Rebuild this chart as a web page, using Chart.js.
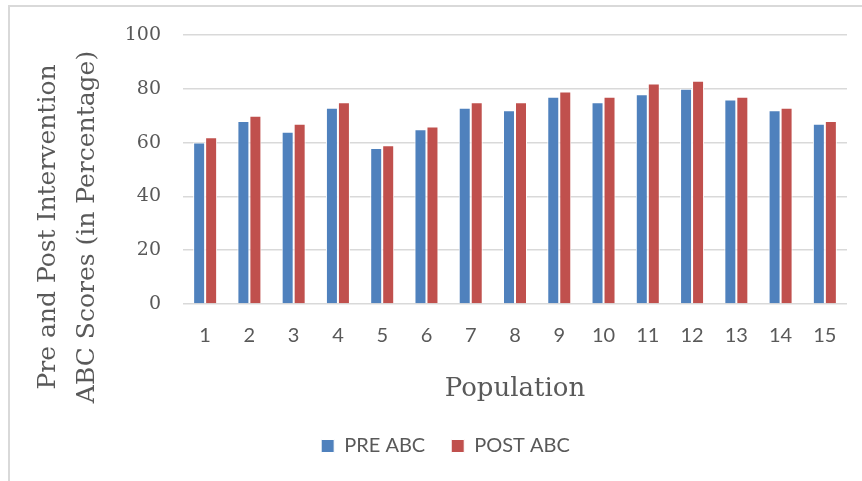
<!DOCTYPE html>
<html>
<head>
<meta charset="utf-8">
<script src="https://cdn.jsdelivr.net/npm/chart.js@4/dist/chart.umd.min.js"></script>
<style>
    html, body { margin: 0; padding: 0; background: #fff; }
    #wrap { position: relative; width: 862px; height: 481px; overflow: hidden; }
    #frame { position: absolute; left: 8px; top: 5px; width: 900px; height: 520px; border: 2px solid #d9d9d9; }
    canvas { position: absolute; left: 0; top: 0; }
</style>
</head>
<body>
<div id="wrap">
    <div id="frame"></div>
    <canvas id="chartScores" width="862" height="481"></canvas>
</div>
<script>
// === Data ===
const population = ['1', '2', '3', '4', '5', '6', '7', '8', '9', '10', '11', '12', '13', '14', '15'];
const preAbc = [60, 68, 64, 73, 58, 65, 73, 72, 77, 75, 78, 80, 76, 72, 67];
const postAbc = [62, 70, 67, 75, 59, 66, 75, 75, 79, 77, 82, 83, 77, 73, 68];
const yTicks = [0, 20, 40, 60, 80, 100];
const yTitleLines = ['Pre and Post Intervention', 'ABC Scores (in Percentage)'];
const xTitle = 'Population';

const TEXT_GRAY = '#595959';
const GRID_GRAY = '#d9d9d9';

// rotated two-line y title, centred lower than the plot like the original
const yTitlePlugin = {
    id: 'yTitle',
    afterDraw(chart) {
        const ctx = chart.ctx;
        ctx.save();
        ctx.translate(48, 227);
        ctx.rotate(-Math.PI / 2);
        ctx.font = '25px "DejaVu Serif"';
        ctx.fillStyle = TEXT_GRAY;
        ctx.textAlign = 'center';
        ctx.textBaseline = 'middle';
        yTitleLines.forEach((line, i) => ctx.fillText(line, 0, i * 39));
        ctx.restore();
    }
};

// nudge legend right a bit
const legendShift = {
    id: 'legendShift',
    afterLayout(chart) {
        chart.legend.left += 17;
        chart.legend.right += 17;
    }
};

const ctx = document.getElementById('chartScores').getContext('2d');
new Chart(ctx, {
    type: 'bar',
    data: {
        labels: population,
        datasets: [
            { label: 'PRE ABC', data: preAbc, backgroundColor: '#4F81BD', borderColor: '#ffffff', borderWidth: 1 },
            { label: 'POST ABC', data: postAbc, backgroundColor: '#C0504D', borderColor: '#ffffff', borderWidth: 1 }
        ]
    },
    options: {
        responsive: false,
        animation: false,
        layout: { padding: { left: 10, right: 15, top: 35, bottom: 15 } },
        datasets: { bar: { categoryPercentage: 0.542, barPercentage: 1 } },
        scales: {
            x: {
                grid: { display: false, drawTicks: false },
                border: { display: false },
                ticks: { color: TEXT_GRAY, font: { family: 'Lato', size: 20 }, padding: 20, maxRotation: 0 },
                title: { display: true, text: xTitle, color: TEXT_GRAY, font: { family: 'DejaVu Serif', size: 26 }, padding: { top: 0, bottom: 5 } },
                afterFit(scale) { scale.height = 106; }
            },
            y: {
                min: 0,
                max: 100,
                afterBuildTicks(scale) { scale.ticks = yTicks.map(v => ({ value: v })); },
                grid: { color: GRID_GRAY, lineWidth: 1.5, drawTicks: false },
                border: { display: false },
                ticks: { color: TEXT_GRAY, font: { family: 'DejaVu Serif', size: 19 }, padding: 22 },
                afterFit(scale) { scale.width = 173; }
            }
        },
        plugins: {
            legend: {
                position: 'bottom',
                labels: { boxWidth: 13, boxHeight: 13, padding: 26, color: TEXT_GRAY, font: { family: 'Lato', size: 20 } }
            },
            tooltip: { enabled: false }
        }
    },
    plugins: [yTitlePlugin, legendShift]
});
</script>
</body>
</html>
